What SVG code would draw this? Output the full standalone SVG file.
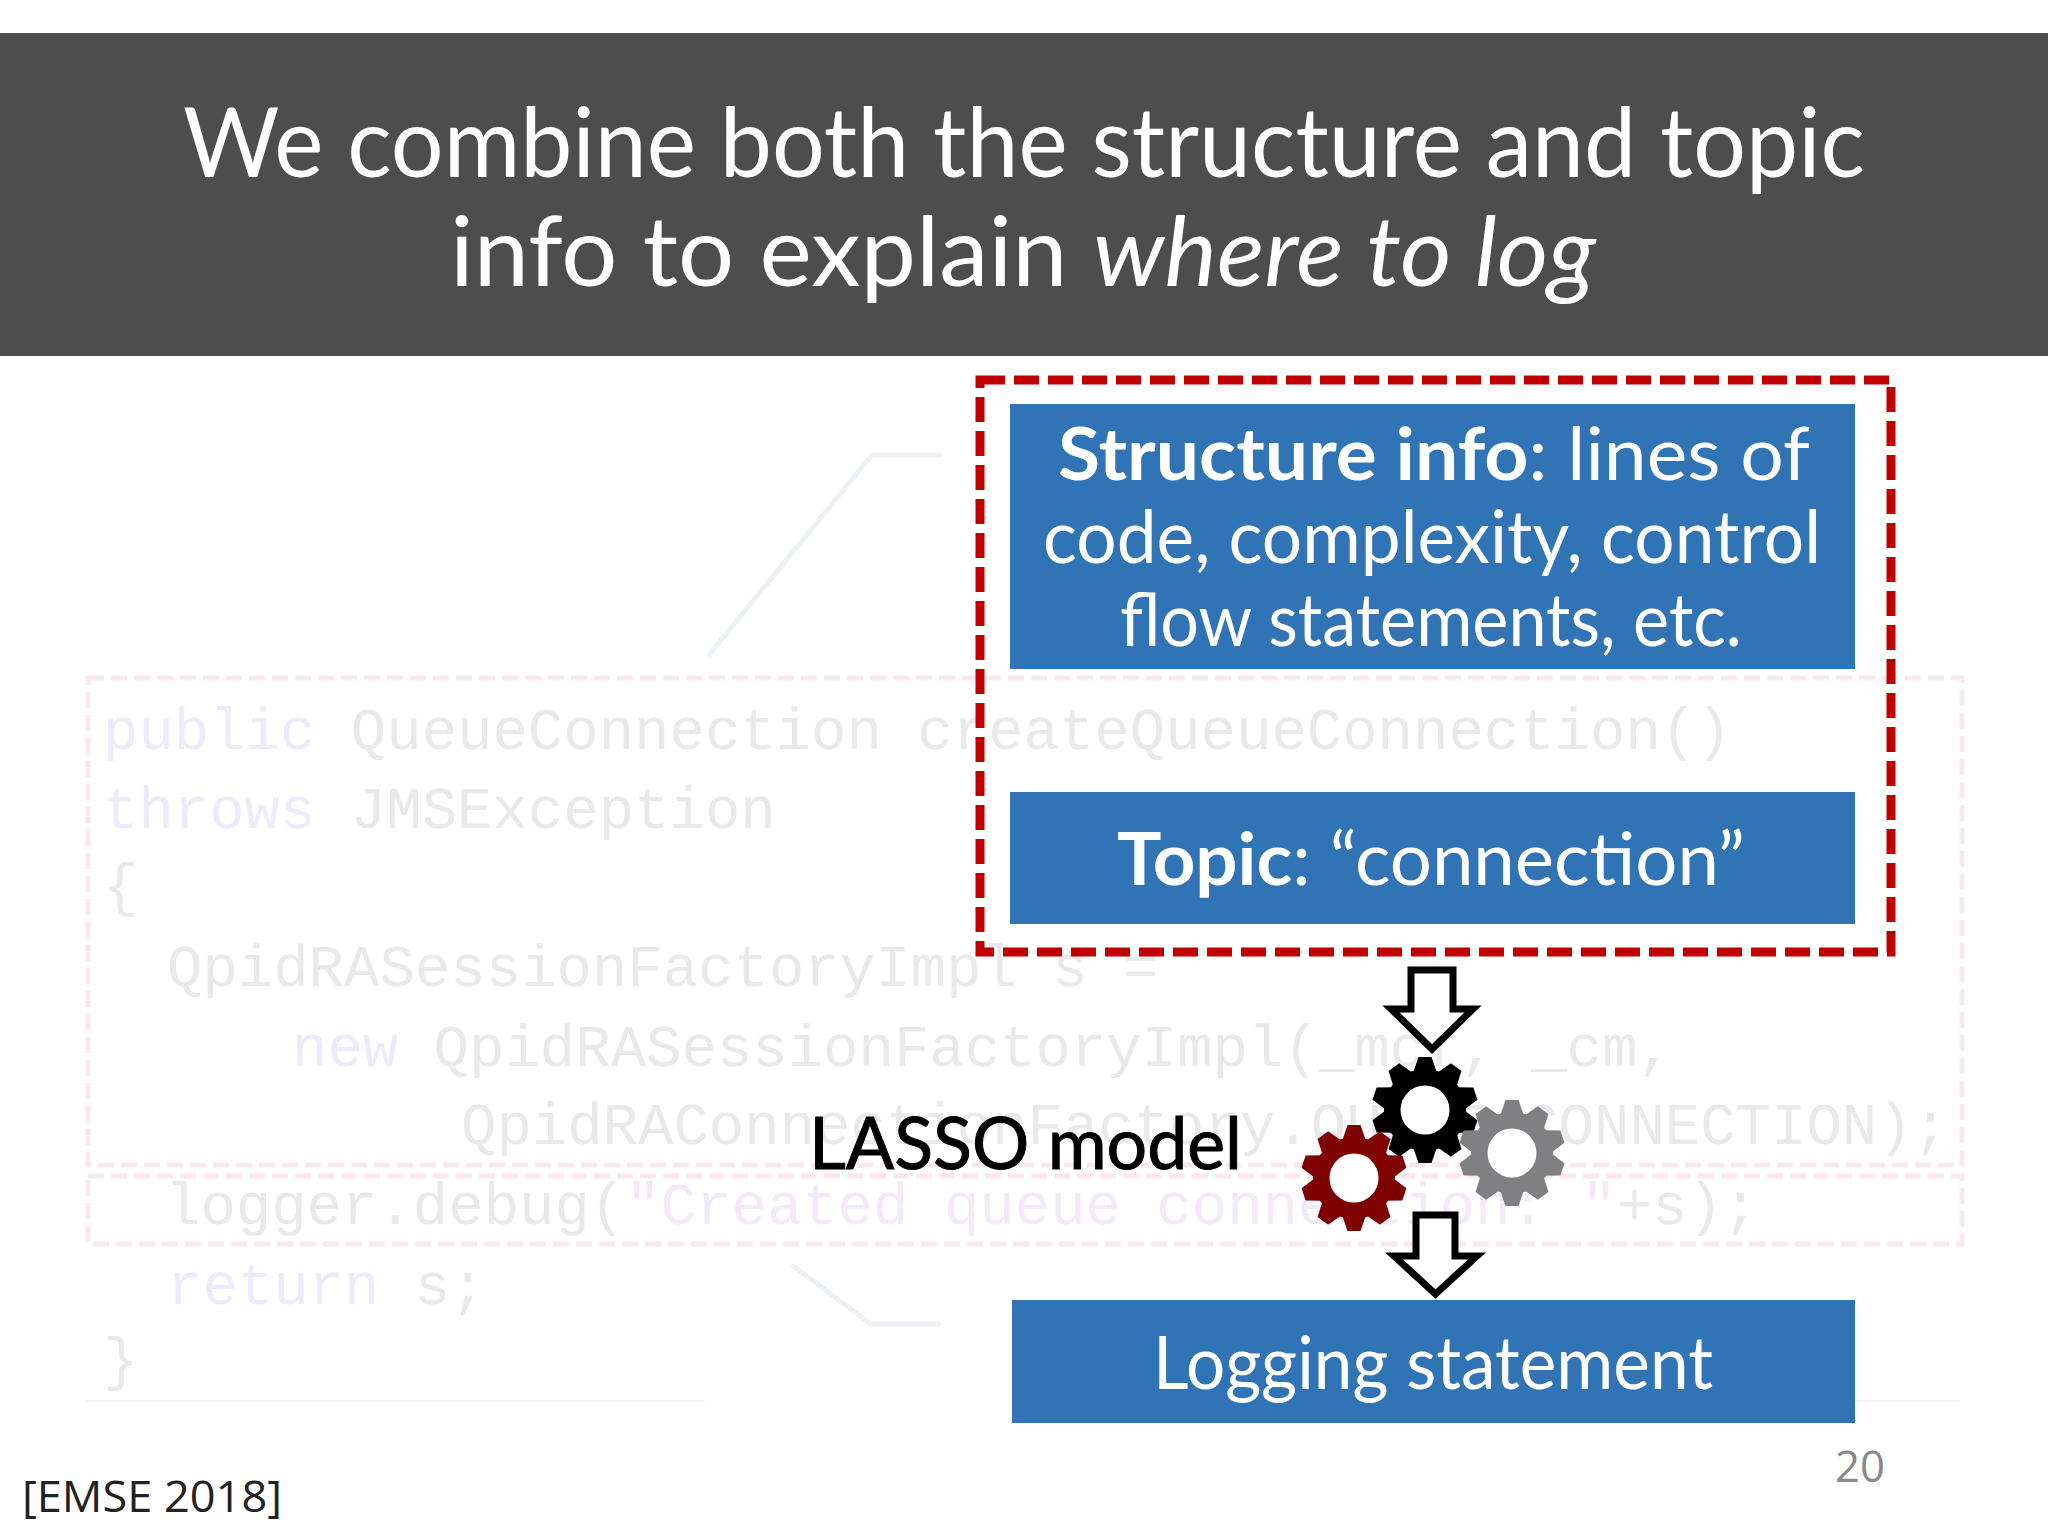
<svg xmlns="http://www.w3.org/2000/svg" xmlns:xlink="http://www.w3.org/1999/xlink" width="2048" height="1536" viewBox="0 0 2048 1536">
<style>
.head{font-family:"Lato","Noto Sans",sans-serif;font-size:97px;fill:#fff}
.lbl{font-family:"Lato","Noto Sans",sans-serif;font-size:73px;fill:#fff}
.b{font-weight:700}
.code{font-family:"Liberation Mono",monospace;font-size:59px;fill:#e9e9eb}
.kw{fill:#ebebfb}
.str{fill:#f3e9f7}
.blue{fill:#3074b5}
.faint{fill:none;stroke:#f9e9ec;stroke-width:5;stroke-dasharray:16 7}
.ghost{fill:none;stroke:#edf1f5;stroke-width:5}
.rule{fill:none;stroke:#f6f1f7;stroke-width:2}
.red{fill:none;stroke:#c00000;stroke-width:9;stroke-dasharray:25 9}
.arrow{fill:#fff;stroke:#000;stroke-width:7;stroke-miterlimit:6}
.cal{font-family:"Open Sans","Liberation Sans",sans-serif;font-size:44px}
</style>
<defs>
<polygon id="tooth" points="-12,-37 -6.500,-53 6.500,-53 12,-37" fill="currentColor"/>
<g id="gear">
<circle r="41" fill="currentColor"/>
<use href="#tooth"/>
<use href="#tooth" transform="rotate(36)"/>
<use href="#tooth" transform="rotate(72)"/>
<use href="#tooth" transform="rotate(108)"/>
<use href="#tooth" transform="rotate(144)"/>
<use href="#tooth" transform="rotate(180)"/>
<use href="#tooth" transform="rotate(216)"/>
<use href="#tooth" transform="rotate(252)"/>
<use href="#tooth" transform="rotate(288)"/>
<use href="#tooth" transform="rotate(324)"/>
<circle r="24.5" fill="#fff"/>
</g>
</defs>
<rect width="2048" height="1536" fill="#fff"/>
<g id="code-background">
<rect class="faint" x="88" y="678" width="1874" height="487"/>
<rect class="faint" x="88" y="1176" width="1874" height="68"/>
<polyline class="ghost" points="708,656 872,455 942,455"/>
<polyline class="ghost" points="792,1265 871,1324 941,1324"/>
<path class="rule" d="M86 1401H705M1855 1401H1960"/>
<text class="code" x="103" y="749"><tspan class="kw">public</tspan> QueueConnection createQueueConnection()</text>
<text class="code" x="103" y="828"><tspan class="kw">throws</tspan> JMSException</text>
<text class="code" x="103" y="905">{</text>
<text class="code" x="167" y="986">QpidRASessionFactoryImpl s =</text>
<text class="code" x="292" y="1066"><tspan class="kw">new</tspan> QpidRASessionFactoryImpl(_mcf, _cm,</text>
<text class="code" x="461" y="1144">QpidRAConnectionFactory.QUEUE_CONNECTION);</text>
<text class="code" x="165" y="1224">logger.debug(<tspan class="str">"Created queue connection: "</tspan>+s);</text>
<text class="code" x="167" y="1304"><tspan class="kw">return</tspan> s;</text>
<text class="code" x="103" y="1379">}</text>
</g>
<g id="title">
<rect x="0" y="33" width="2048" height="323" fill="#4d4d4d"/>
<text class="head" x="183" y="177" textLength="1682" lengthAdjust="spacingAndGlyphs">We combine both the structure and topic</text>
<text class="head" x="450" y="286" textLength="1146" lengthAdjust="spacingAndGlyphs">info to explain <tspan font-style="italic">where to log</tspan></text>
</g>
<g id="input-group"><rect class="red" x="980" y="380" width="911" height="572"/></g>
<g id="structure-info">
<rect class="blue" x="1010" y="404" width="845" height="265"/>
<text class="lbl" x="1058" y="480" textLength="752" lengthAdjust="spacingAndGlyphs"><tspan class="b">Structure info</tspan>: lines of</text>
<text class="lbl" x="1043" y="563" textLength="778" lengthAdjust="spacingAndGlyphs">code, complexity, control</text>
<text class="lbl" x="1120" y="646" textLength="622" lengthAdjust="spacingAndGlyphs">flow statements, etc.</text>
</g>
<g id="topic">
<rect class="blue" x="1010" y="792" width="845" height="132"/>
<text class="lbl" x="1117" y="885" textLength="628" lengthAdjust="spacingAndGlyphs"><tspan class="b">Topic</tspan>: “connection”</text>
</g>
<g id="lasso-model">
<text x="809" y="1169" font-family="Lato,'Noto Sans',sans-serif" font-size="72" fill="#000" stroke="#000" stroke-width="1" textLength="433" lengthAdjust="spacingAndGlyphs">LASSO model</text>
<use href="#gear" x="1425" y="1110" color="#000"/>
<use href="#gear" x="1354" y="1178" color="#7f0000"/>
<use href="#gear" x="1512" y="1153" color="#808083"/>
</g>
<g id="logging-statement">
<rect class="blue" x="1012" y="1300" width="843" height="123"/>
<text class="lbl" x="1153" y="1389" textLength="560" lengthAdjust="spacingAndGlyphs">Logging statement</text>
</g>
<g id="connectors">
<path class="arrow" d="M1411 970H1453V1009H1473L1432 1049L1391 1009H1411Z"/>
<path class="arrow" d="M1416 1215H1455V1256H1477L1435.500 1294L1394 1256H1416Z"/>
</g>
<g id="footer">
<text class="cal" x="22" y="1512" fill="#222" textLength="260" lengthAdjust="spacingAndGlyphs">[EMSE 2018]</text>
<text class="cal" x="1835" y="1482" fill="#8a8a8a" textLength="50" lengthAdjust="spacingAndGlyphs">20</text>
</g>
</svg>
